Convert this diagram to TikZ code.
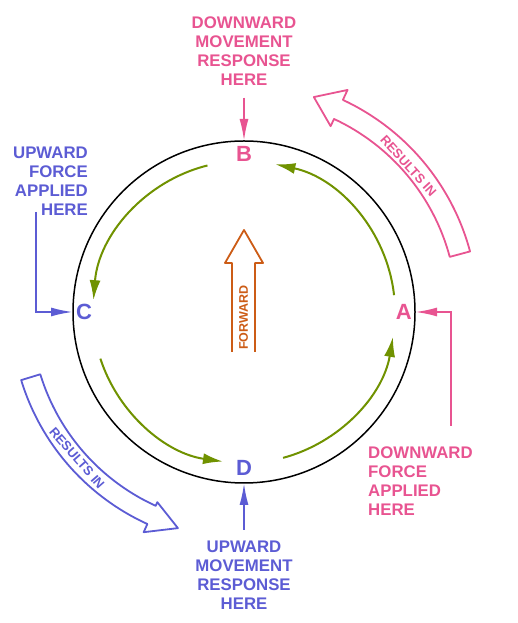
\documentclass[tikz,border=0pt]{standalone}
\usepackage{fontspec}
\setmainfont{Liberation Sans}
\usetikzlibrary{arrows.meta,positioning}
\definecolor{rpink}{RGB}{232,84,145}
\definecolor{rblue}{RGB}{92,92,212}
\definecolor{rgreen}{RGB}{112,146,0}
\definecolor{rorange}{RGB}{204,92,22}

\begin{document}
\begin{tikzpicture}[x=1pt,y=1pt,
    caption/.style={font=\bfseries\fontsize{16.8}{18.8}\selectfont,inner sep=0pt},
    letter/.style={font=\bfseries\fontsize{22}{22}\selectfont,inner sep=0pt},
    pointer/.style={line width=2pt,-{Latex[length=22pt,width=9pt]}},
    cycarrow/.style={rgreen,line width=2pt,-{Latex[length=20pt,width=11pt]}},
    band/.style={line width=1.8pt,line join=round},
    bandtext/.style={font=\bfseries\fontsize{13}{13}\selectfont,inner sep=0pt}
]
\useasboundingbox (0,0) rectangle (517,623);
\coordinate (O) at (244,311);
\draw[line width=1.5pt] (O) circle[radius=171];
\path (O) ++(0:171) coordinate (ptA);
\path (O) ++(90:171) coordinate (ptB);
\path (O) ++(180:171) coordinate (ptC);
\path (O) ++(270:171) coordinate (ptD);

\node[letter,rpink,left=3pt of ptA] (labA) {A};
\node[letter,rpink,below=5pt of ptB] (labB) {B};
\node[letter,rblue,right=3pt of ptC] (labC) {C};
\node[letter,rblue,above=7pt of ptD] (labD) {D};

\node[caption,rpink,align=center,anchor=north] (txtB) at (244,606) {DOWNWARD\\MOVEMENT\\RESPONSE\\HERE};
\node[caption,rblue,align=right,anchor=north east] (txtC) at (88,476) {UPWARD\\FORCE\\APPLIED\\HERE};
\node[caption,rpink,align=left,anchor=north west] (txtA) at (368,176) {DOWNWARD\\FORCE\\APPLIED\\HERE};
\node[caption,rblue,align=center,anchor=north] (txtD) at (244,82) {UPWARD\\MOVEMENT\\RESPONSE\\HERE};

\coordinate (footC) at (36,411);
\coordinate (footA) at (451,197);
\draw[pointer,rpink,shorten <=12pt] (txtB) -- (ptB);
\draw[pointer,rblue,shorten <=11pt] (txtD) -- (ptD);
\draw[pointer,rblue] (footC) |- (ptC);
\draw[pointer,rpink] (footA) |- (ptA);

\begin{scope}[shift={(O)}]
\foreach \s/\e in {6.4/78,104/175.5,198/262,285/350.5} {
    \draw[cycarrow] (\s:151) arc[start angle=\s,end angle=\e,radius=151];
}
\draw[band,rpink] (15:213) arc[start angle=15,end angle=65,radius=213] -- (65:205) -- (72:226)
    -- (65:245) -- (65:234) arc[start angle=65,end angle=15,radius=234] -- cycle;
\node[bandtext,rpink,rotate=-48] (resA) at (41.6:220) {RESULTS IN};
\draw[band,rblue] (197:233) arc[start angle=197,end angle=245.5,radius=233] -- (245.5:242) -- (253:226)
    -- (245.5:209) -- (245.5:213) arc[start angle=245.5,end angle=197,radius=213] -- cycle;
\node[bandtext,rblue,rotate=-49] (resC) at (221.2:222) {RESULTS IN};
\end{scope}

\draw[rorange,line width=1.8pt,line join=round] (232,271) -- (232,360) -- (225,360) -- (244,393)
    -- (263,360) -- (255,360) -- (255,271);
\node[font=\bfseries\fontsize{12.5}{12.5}\selectfont,rorange,rotate=90,inner sep=0pt] (fwd) at (243.5,305.5) {FORWARD};
\end{tikzpicture}
\end{document}
